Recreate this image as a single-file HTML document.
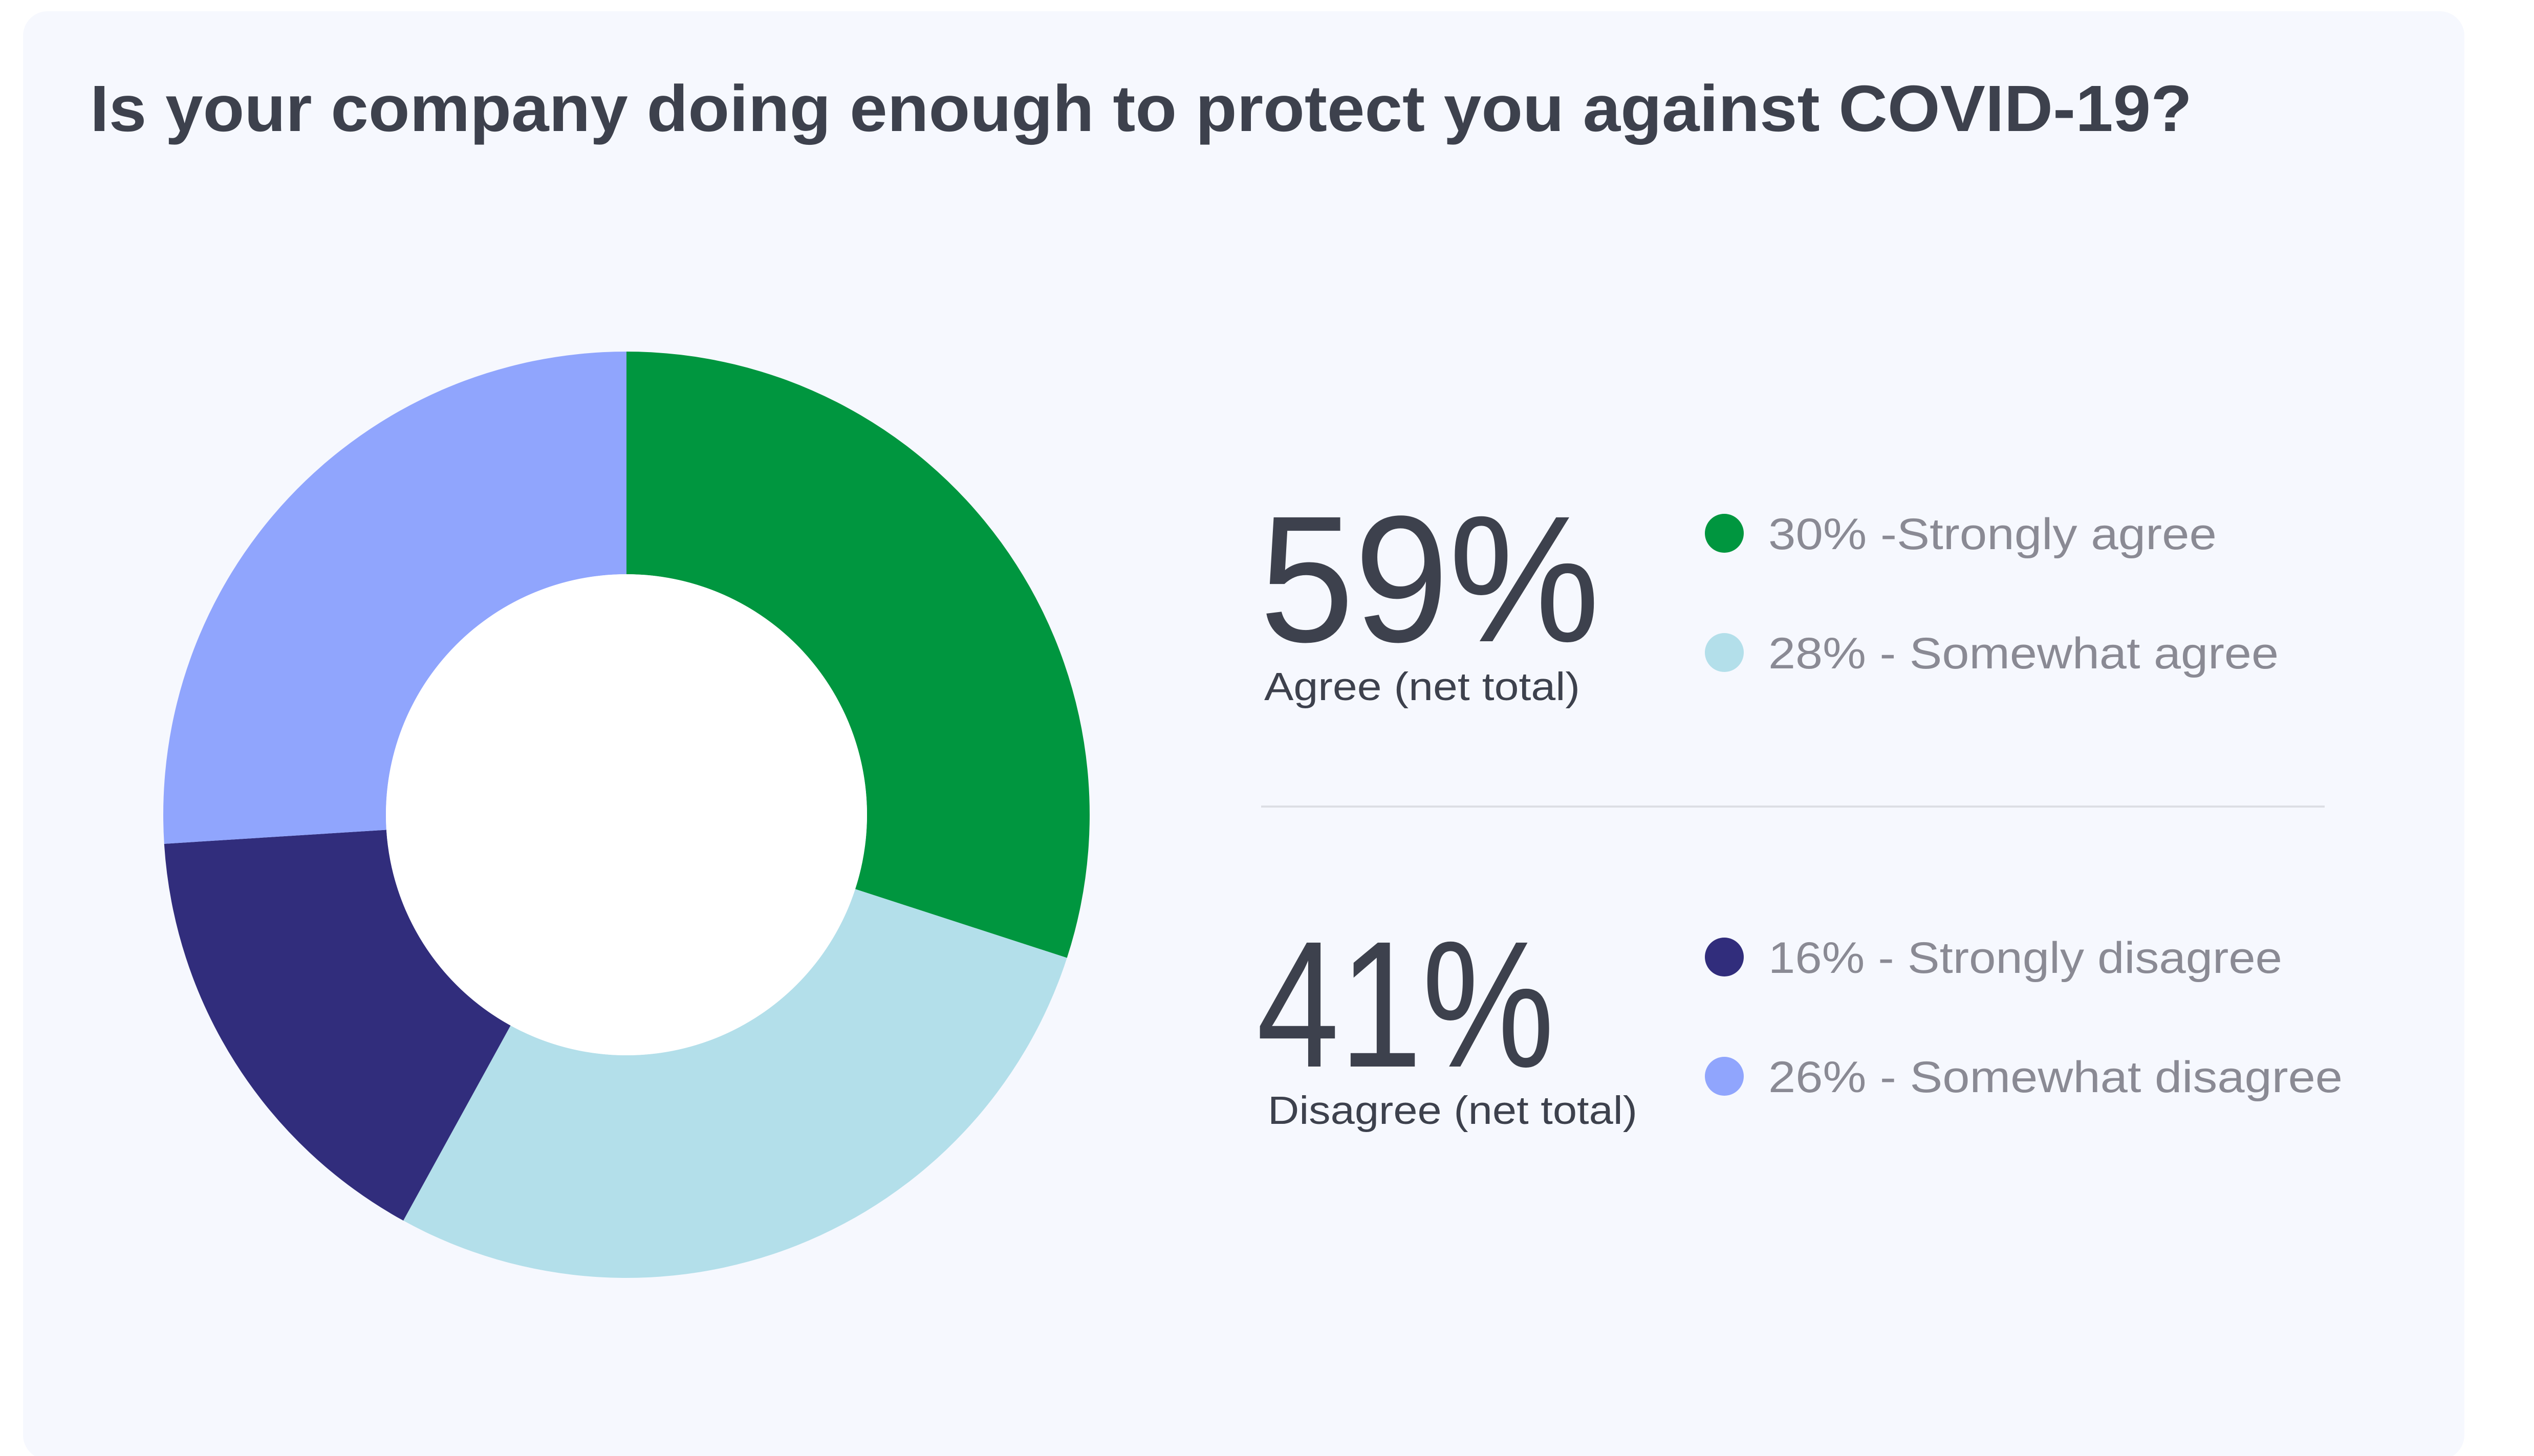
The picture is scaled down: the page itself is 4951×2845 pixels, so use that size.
<!DOCTYPE html>
<html><head><meta charset="utf-8"><style>
html,body{margin:0;padding:0;background:#fff;}
svg{display:block;}
text{font-family:"Liberation Sans",sans-serif;}
</style></head><body>
<svg width="4951" height="2845" viewBox="0 0 4951 2845">
<rect x="45" y="22" width="4770" height="2830" rx="48" fill="#f6f8fe"/>
<text x="176" y="256" font-size="128" font-weight="bold" fill="#3d414d" textLength="4107" lengthAdjust="spacingAndGlyphs">Is your company doing enough to protect you against COVID-19?</text>
<g id="donut"></g>
<text x="2461" y="1253" font-size="352" fill="#3d414d" textLength="665" lengthAdjust="spacingAndGlyphs">59%</text>
<text x="2470" y="1368" font-size="77" fill="#3d414d" textLength="617" lengthAdjust="spacingAndGlyphs">Agree (net total)</text>
<line x1="2464" y1="1576" x2="4542" y2="1576" stroke="#dcdee4" stroke-width="4"/>
<text x="2455" y="2084" font-size="352" fill="#3d414d" textLength="582" lengthAdjust="spacingAndGlyphs">41%</text>
<text x="2477" y="2196" font-size="77" fill="#3d414d" textLength="722" lengthAdjust="spacingAndGlyphs">Disagree (net total)</text>
<g id="legend"></g>
</svg>
<script>
const categories = ["30% -Strongly agree","28% - Somewhat agree","16% - Strongly disagree","26% - Somewhat disagree"];
const values = [30, 28, 16, 26];
const colors = ["#00963f","#b3dfea","#312d7c","#90a5fd"];
const legendWidths = [876, 997, 1004, 1122];
const NS = "http://www.w3.org/2000/svg";
const cx = 1224, cy = 1592, R = 905, r = 470;
const total = values.reduce((a,b)=>a+b,0);
function angle(v){ return v/total*2*Math.PI; }
function pt(rad, a){ return [cx + rad*Math.sin(a), cy - rad*Math.cos(a)]; }
const donut = document.getElementById('donut');
let acc = 0;
values.forEach((v,i)=>{
  const a0 = angle(acc), a1 = angle(acc+v); acc += v;
  const large = (a1-a0) > Math.PI ? 1 : 0;
  const [x0,y0]=pt(R,a0),[x1,y1]=pt(R,a1),[x2,y2]=pt(r,a1),[x3,y3]=pt(r,a0);
  const p = document.createElementNS(NS,'path');
  p.setAttribute('d',`M${x0},${y0}A${R},${R} 0 ${large} 1 ${x1},${y1}L${x2},${y2}A${r},${r} 0 ${large} 0 ${x3},${y3}Z`);
  p.setAttribute('fill',colors[i]);
  
  
  donut.appendChild(p);
});
const hole = document.createElementNS(NS,'circle');
hole.setAttribute('cx',cx); hole.setAttribute('cy',cy); hole.setAttribute('r',r); hole.setAttribute('fill','#ffffff');


donut.appendChild(hole);
const legendY = [1042, 1275, 1870, 2103];
const legend = document.getElementById('legend');
categories.forEach((c,i)=>{
  const d = document.createElementNS(NS,'circle');
  d.setAttribute('cx',3369); d.setAttribute('cy',legendY[i]); d.setAttribute('r',38); d.setAttribute('fill',colors[i]);
  
  
  legend.appendChild(d);
  const t = document.createElementNS(NS,'text');
  t.setAttribute('x',3455); t.setAttribute('y',legendY[i]+31);
  t.setAttribute('font-size',86); t.setAttribute('fill','#8a8a94');
  t.setAttribute('textLength',legendWidths[i]); t.setAttribute('lengthAdjust','spacingAndGlyphs');
  t.textContent = c;
  
  
  legend.appendChild(t);
});
</script>
</body></html>
